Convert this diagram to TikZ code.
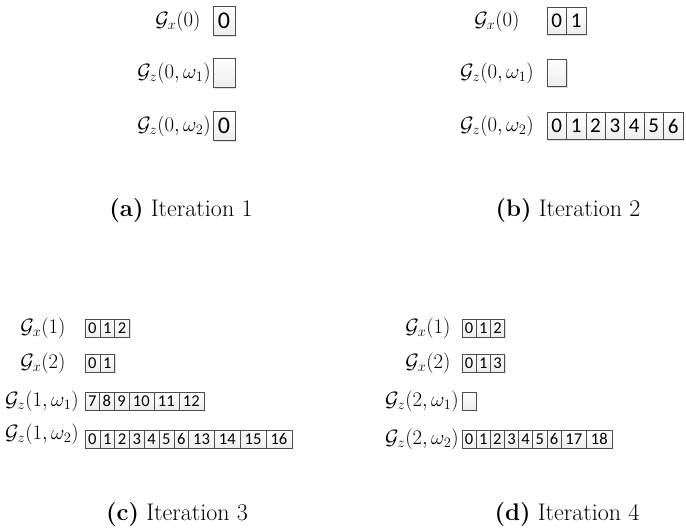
\documentclass[tikz,border=0pt]{standalone}
\usepackage{fontspec}
\newfontfamily\cellfont{Carlito}
\usetikzlibrary{shadows}

\tikzset{
  cellbase/.style={draw=gray!60!black, line width=0.6pt, top color=white, bottom color=gray!14,
    drop shadow={shadow xshift=1.2pt, shadow yshift=-1.2pt, opacity=0.25},
    inner sep=0pt, outer sep=0pt},
  cella/.style={cellbase, minimum height=29pt, font=\cellfont\fontsize{24}{28}\selectfont},
  cellb/.style={cellbase, minimum height=27pt, font=\cellfont\fontsize{21}{25}\selectfont},
  cellc/.style={cellbase, minimum height=18pt, font=\cellfont\fontsize{16.5}{19}\selectfont},
  lbl/.style={inner sep=0pt, font=\fontsize{22}{26}\selectfont},
  lblc/.style={inner sep=0pt, font=\fontsize{21}{25}\selectfont},
  captxt/.style={inner sep=0pt, font=\fontsize{24}{29}\selectfont},
  anchorpt/.style={inner sep=0pt, minimum size=0pt, outer sep=0pt},
}

\newcommand\cellrow[7]{%
  \node[anchorpt] (#1-0) at (#2,#3) {};
  \foreach \t [count=\i, remember=\i as \j (initially 0)] in {#6} {
    \pgfmathsetmacro\w{\t>9 ? #7 : #5}
    \node[#4, anchor=west, minimum width=\w pt] (#1-\i) at (#1-\j.east) {\t};
  }
}

\begin{document}
\begin{tikzpicture}[x=1pt, y=1pt]
\useasboundingbox (0,0) rectangle (686,-530);

% ---- panel (a)
\node[lbl] (a-l1) at (178,-21) {$\mathcal{G}_x(0)$};
\node[lbl, anchor=east] (a-l2) at (211,-73) {$\mathcal{G}_z(0,\omega_1)$};
\node[lbl, anchor=east] (a-l3) at (211,-126) {$\mathcal{G}_z(0,\omega_2)$};
\cellrow{a1}{213}{-21}{cella}{22}{0}{22}
\node[cella, anchor=west, minimum width=22pt] (a2) at (213,-73) {};
\cellrow{a3}{213}{-126}{cella}{22}{0}{22}
\node[captxt] (capa) at (181,-211) {\textbf{(a)} Iteration 1};

% ---- panel (b)
\node[lbl] (b-l1) at (497,-21) {$\mathcal{G}_x(0)$};
\node[lbl] (b-l2) at (497,-73) {$\mathcal{G}_z(0,\omega_1)$};
\node[lbl] (b-l3) at (497,-126) {$\mathcal{G}_z(0,\omega_2)$};
\cellrow{b1}{547}{-21}{cellb}{19.4}{0,1}{19.4}
\node[cellb, anchor=west, minimum width=19.4pt] (b2) at (547,-73) {};
\cellrow{b3}{547}{-126}{cellb}{19.4}{0,1,2,3,4,5,6}{19.4}
\node[captxt] (capb) at (568,-211) {\textbf{(b)} Iteration 2};

% ---- panel (c)
\node[lblc] (c-l1) at (43,-328) {$\mathcal{G}_x(1)$};
\node[lblc] (c-l2) at (43,-363) {$\mathcal{G}_x(2)$};
\node[lblc] (c-l3) at (42,-401) {$\mathcal{G}_z(1,\omega_1)$};
\node[lblc] (c-l4) at (42,-434) {$\mathcal{G}_z(1,\omega_2)$};
\cellrow{c1}{85}{-328}{cellc}{14.8}{0,1,2}{25.7}
\cellrow{c2}{85}{-363}{cellc}{14.8}{0,1}{25.7}
\cellrow{c3}{85}{-401}{cellc}{14.6}{7,8,9,10,11,12}{25}
\cellrow{c4}{85}{-439}{cellc}{14.8}{0,1,2,3,4,5,6,13,14,15,16}{25.8}
\node[captxt] (capc) at (177,-515) {\textbf{(c)} Iteration 3};

% ---- panel (d)
\node[lblc] (d-l1) at (428,-328) {$\mathcal{G}_x(1)$};
\node[lblc] (d-l2) at (428,-363) {$\mathcal{G}_x(2)$};
\node[lblc] (d-l3) at (422,-401) {$\mathcal{G}_z(2,\omega_1)$};
\node[lblc] (d-l4) at (422,-439) {$\mathcal{G}_z(2,\omega_2)$};
\cellrow{d1}{462}{-328}{cellc}{14.2}{0,1,2}{25.5}
\cellrow{d2}{462}{-363}{cellc}{14.2}{0,1,3}{25.5}
\node[cellc, anchor=west, minimum width=14.2pt] (d3) at (462,-401) {};
\cellrow{d4}{462}{-439}{cellc}{14.15}{0,1,2,3,4,5,6,17,18}{25.5}
\node[captxt] (capd) at (567,-515) {\textbf{(d)} Iteration 4};
\end{tikzpicture}
\end{document}
